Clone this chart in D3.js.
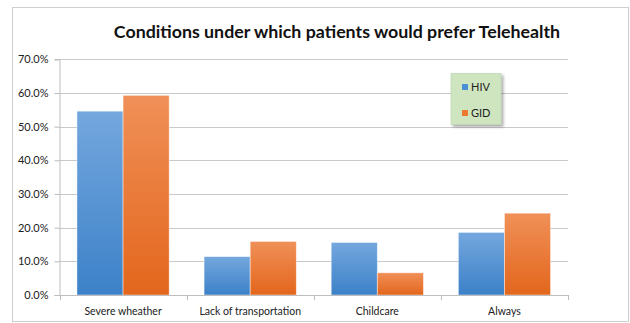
<!DOCTYPE html>
<html>
<head>
<meta charset="utf-8">
<script src="https://cdn.jsdelivr.net/npm/d3@7"></script>
<style>
  html, body { margin: 0; padding: 0; background: #ffffff; }
  svg { display: block; }
  text { font-family: Lato, "Open Sans", sans-serif; }
</style>
</head>
<body>
<div id="chart"></div>
<script>
// Survey results: share of patients preferring telehealth, by condition
const categories = ["Severe wheather", "Lack of transportation", "Childcare", "Always"];
const seriesNames = ["HIV", "GID"];
const hivValues = [0.546, 0.114, 0.156, 0.186];
const gidValues = [0.593, 0.159, 0.066, 0.243];
const yTicks = [0, 0.1, 0.2, 0.3, 0.4, 0.5, 0.6, 0.7];
const titleText = "Conditions under which patients would prefer Telehealth";

const W = 630, H = 323;
const margin = { left: 59.5, right: 62, top: 59.3, bottom: 28 };

const svg = d3.select("#chart").append("svg")
  .attr("width", W).attr("height", H);

const defs = svg.append("defs");
const gradStops = {
  HIV: ["#74a7de", "#3c81c8"],
  GID: ["#f09058", "#e3661c"]
};
seriesNames.forEach(name => {
  const g = defs.append("linearGradient")
    .attr("id", "grad-" + name)
    .attr("x1", 0).attr("y1", 0).attr("x2", 0).attr("y2", 1);
  g.append("stop").attr("offset", "0%").attr("stop-color", gradStops[name][0]);
  g.append("stop").attr("offset", "100%").attr("stop-color", gradStops[name][1]);
});
const shadow = defs.append("filter").attr("id", "legend-shadow")
  .attr("x", "-20%").attr("y", "-20%").attr("width", "150%").attr("height", "150%");
shadow.append("feDropShadow").attr("dx", 2).attr("dy", 2).attr("stdDeviation", 1.5)
  .attr("flood-color", "#000").attr("flood-opacity", 0.35);

// chart frame
svg.append("rect")
  .attr("x", 12.5).attr("y", 7.5).attr("width", 616).attr("height", 314)
  .attr("fill", "#ffffff").attr("stroke", "#cfcfcf").attr("stroke-width", 1);

const plotW = 568 - margin.left;
const y0 = 295;
const x = d3.scaleBand().domain(categories).range([margin.left, margin.left + plotW])
  .paddingInner(0).paddingOuter(0);
const y = d3.scaleLinear().domain([0, 0.7]).range([y0, margin.top]);
const groupInner = d3.scaleBand().domain(seriesNames)
  .range([0, x.bandwidth()]).paddingInner(0).paddingOuter(0.3785);

// gridlines
svg.append("g").selectAll("line").data(yTicks.filter(t => t > 0)).join("line")
  .attr("x1", margin.left).attr("x2", margin.left + plotW)
  .attr("y1", d => Math.round(y(d)) + 0.5).attr("y2", d => Math.round(y(d)) + 0.5)
  .attr("stroke", "#c9c9c9").attr("stroke-width", 1);

// y axis
const yAxis = svg.append("g")
  .attr("transform", `translate(${margin.left},0)`)
  .call(d3.axisLeft(y).tickValues(yTicks).tickFormat(d3.format(".1%")).tickSize(5).tickPadding(6));
yAxis.select(".domain").attr("stroke", "#bdbdbd");
yAxis.selectAll(".tick line").attr("stroke", "#bdbdbd");
yAxis.selectAll(".tick text").attr("fill", "#222").style("font-size", "11px")
  .style("font-family", "Lato, 'Open Sans', sans-serif");

// bars
const rows = categories.map((c, i) => ({ cat: c, HIV: hivValues[i], GID: gidValues[i] }));
const groups = svg.append("g").selectAll("g").data(rows).join("g")
  .attr("transform", d => `translate(${x(d.cat)},0)`);
groups.selectAll("rect").data(d => seriesNames.map(s => ({ s, v: d[s] }))).join("rect")
  .attr("x", d => groupInner(d.s))
  .attr("y", d => y(d.v))
  .attr("width", groupInner.bandwidth())
  .attr("height", d => y0 - y(d.v))
  .attr("fill", d => `url(#grad-${d.s})`)
  .attr("stroke", "#ffffff").attr("stroke-opacity", 0.55).attr("stroke-width", 0.8);

// x axis
const xAxis = svg.append("g")
  .attr("transform", `translate(0,${y0})`)
  .call(d3.axisBottom(x).tickSize(0).tickPadding(12.5));
xAxis.select(".domain").attr("stroke", "#bdbdbd");
xAxis.selectAll(".tick text").attr("fill", "#222").style("font-size", "10.5px")
  .style("font-family", "Lato, 'Open Sans', sans-serif");
// category boundary ticks
const bounds = categories.map(c => x(c)).concat([x(categories[categories.length - 1]) + x.bandwidth()]);
xAxis.append("g").selectAll("line").data(bounds).join("line")
  .attr("x1", d => Math.round(d) + 0.5).attr("x2", d => Math.round(d) + 0.5)
  .attr("y1", 0).attr("y2", 5).attr("stroke", "#bdbdbd");

// title
svg.append("text")
  .attr("x", 337).attr("y", 37.5)
  .attr("text-anchor", "middle")
  .style("font-size", "17.8px").style("font-weight", "bold").attr("fill", "#111")
  .text(titleText);

// legend
const legend = svg.append("g").attr("transform", "translate(451,73.5)");
legend.append("rect")
  .attr("width", 50).attr("height", 51)
  .attr("fill", "#cfe5c0").attr("stroke", "#b9cfae").attr("stroke-width", 0.6)
  .attr("filter", "url(#legend-shadow)");
const legendColors = { HIV: "#4a8fd6", GID: "#ee7a32" };
const items = legend.selectAll("g.item").data(seriesNames).join("g")
  .attr("class", "item")
  .attr("transform", (d, i) => `translate(11,${10.5 + i * 26})`);
items.append("rect").attr("width", 6).attr("height", 6)
  .attr("fill", d => legendColors[d]);
items.append("text").attr("x", 9).attr("y", 7)
  .style("font-size", "11px").attr("fill", "#222").text(d => d);
</script>
</body>
</html>
